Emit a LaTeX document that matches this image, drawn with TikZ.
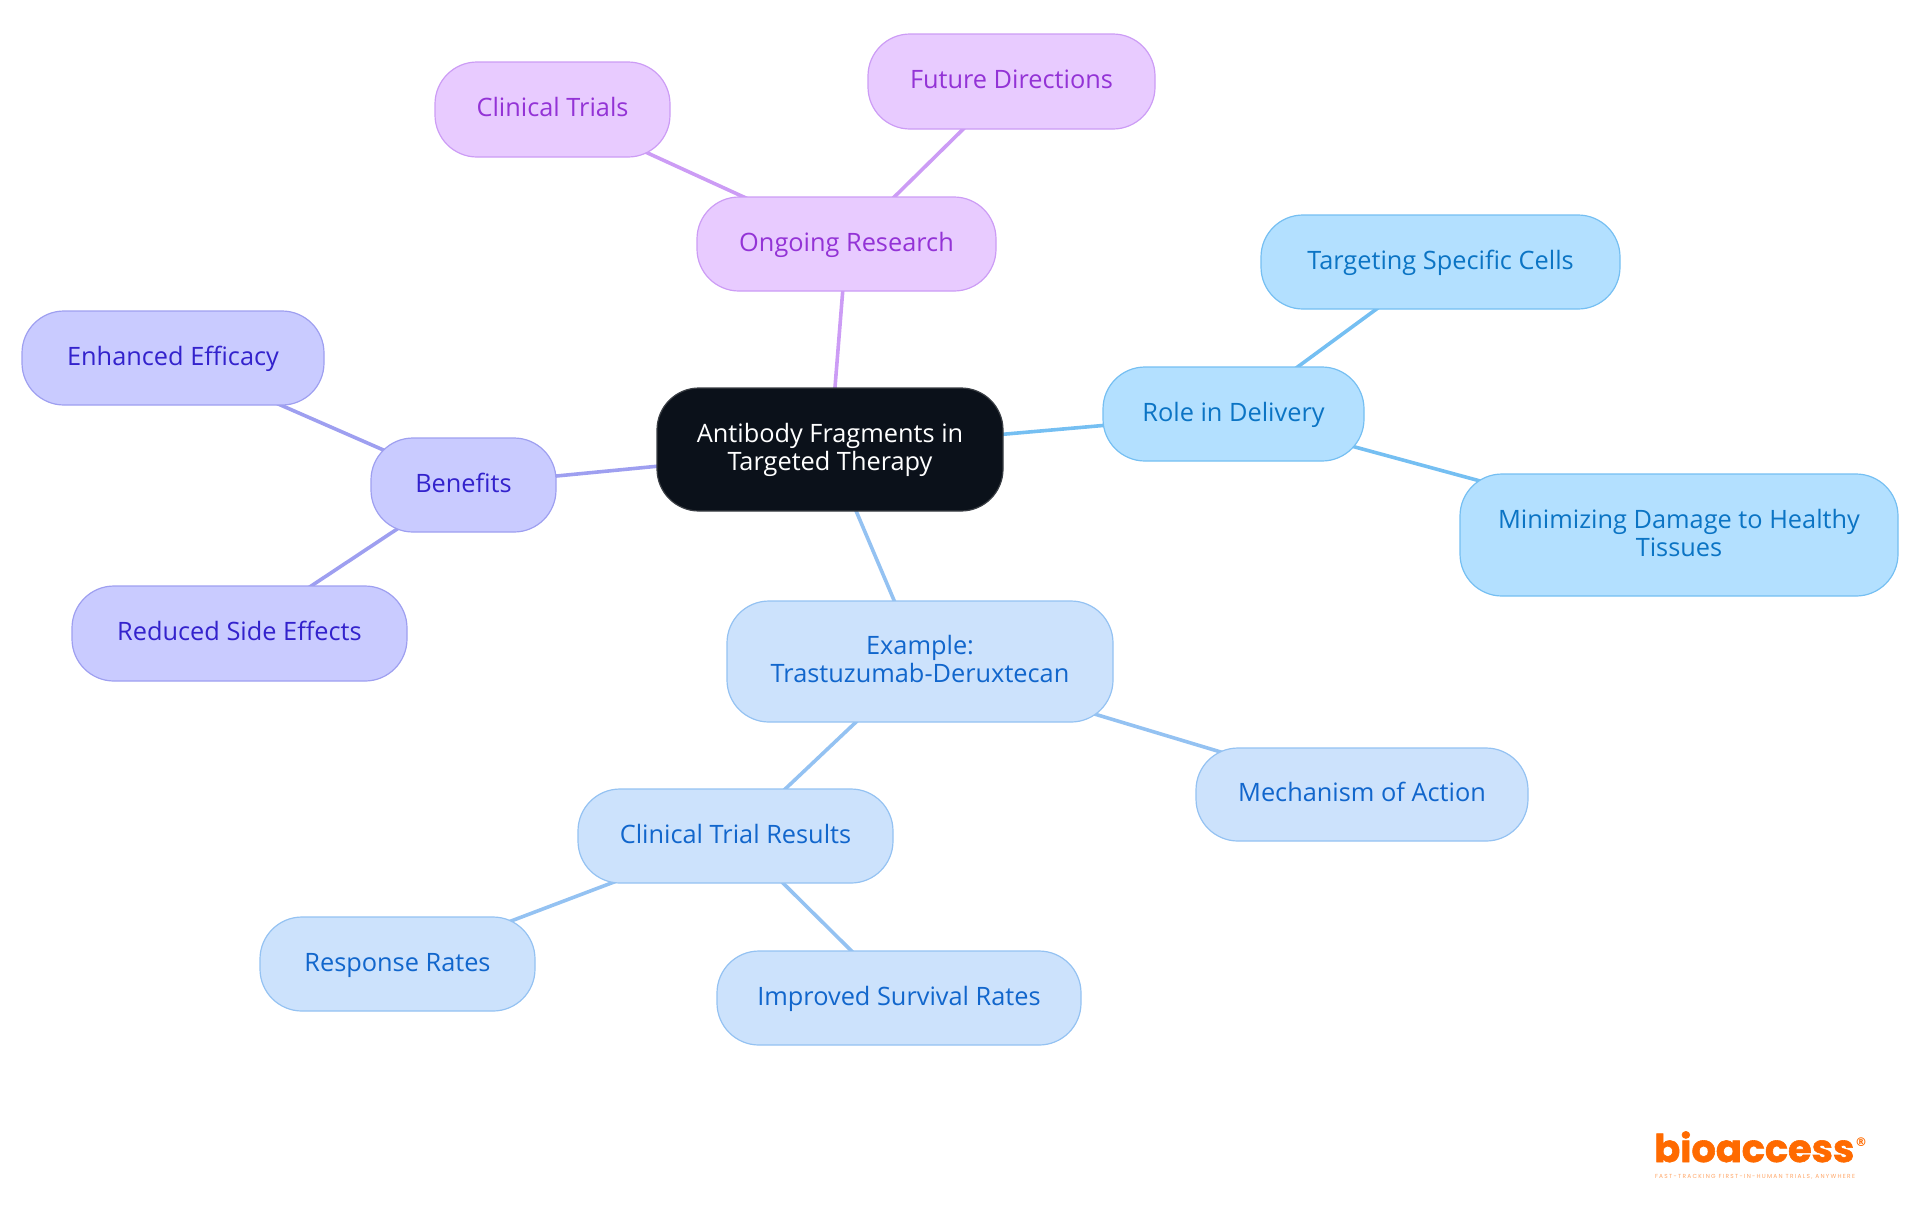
\documentclass[tikz,border=0pt]{standalone}
\usepackage{fontspec}
\usepackage{graphicx}
\setmainfont{Open Sans}
\newfontfamily\logofont[FakeBold=1.5]{Poppins}
\newfontfamily\regfont{DejaVu Sans}
\newfontfamily\tagfont[LetterSpace=22]{Poppins}
\usetikzlibrary{backgrounds}
\definecolor{rootfill}{HTML}{0B111A}
\definecolor{rootline}{HTML}{3A3E44}
\definecolor{purfill}{HTML}{E8CBFF}
\definecolor{purline}{HTML}{CC9CF5}
\definecolor{purtext}{HTML}{9333D6}
\definecolor{skyfill}{HTML}{B3E0FF}
\definecolor{skyline}{HTML}{75BFF2}
\definecolor{skytext}{HTML}{0B74C4}
\definecolor{blufill}{HTML}{CCE2FC}
\definecolor{bluline}{HTML}{94C2F2}
\definecolor{blutext}{HTML}{1166CC}
\definecolor{indfill}{HTML}{C9CBFF}
\definecolor{indline}{HTML}{9E9FF0}
\definecolor{indtext}{HTML}{3322CC}
\definecolor{logoor}{HTML}{FF6A00}
\newcommand{\mmstrut}{\rule{0pt}{15.6pt}}
\newcommand{\mmdepth}{\rule[-4.4pt]{0pt}{4.4pt}}
\tikzset{
  x=0.75pt,y=-0.75pt,
  mm/.style={rounded corners=31.5pt,line width=0.9pt,align=center,font=\fontsize{19}{21}\selectfont,inner sep=0pt},
  pur/.style={mm,fill=purfill,draw=purline,text=purtext},
  sky/.style={mm,fill=skyfill,draw=skyline,text=skytext},
  blu/.style={mm,fill=blufill,draw=bluline,text=blutext},
  ind/.style={mm,fill=indfill,draw=indline,text=indtext},
  rootbox/.style={mm,fill=rootfill,draw=rootline,text=white},
  pedge/.style={draw=purline,line width=2.7pt},
  sedge/.style={draw=skyline,line width=2.7pt},
  bedge/.style={draw=bluline,line width=2.7pt},
  iedge/.style={draw=indline,line width=2.7pt},
}
\newcommand{\mmnode}[7]{% style,name,x1,y1,x2,y2,text
  \node[#1,minimum width={(#5-#3)*0.75pt},minimum height={(#6-#4)*0.75pt}] (#2) at ({(#3+#5)/2},{(#4+#6)/2}) {\mmstrut #7\mmdepth};}
\begin{document}
\begin{tikzpicture}
\useasboundingbox (0,0) rectangle (1920,1215);
\mmnode{rootbox}{root}{657}{388}{1003}{511}{Antibody Fragments in\\Targeted Therapy}
\mmnode{pur}{research}{697}{197}{996}{291}{Ongoing Research}
\mmnode{pur}{trials}{435}{62}{670}{157}{Clinical Trials}
\mmnode{pur}{future}{868}{34}{1155}{129}{Future Directions}
\mmnode{sky}{role}{1103}{367}{1364}{461}{Role in Delivery}
\mmnode{sky}{cells}{1261}{215}{1620}{309}{Targeting Specific Cells}
\mmnode{sky}{damage}{1460}{474}{1898}{596}{Minimizing Damage to Healthy\\Tissues}
\mmnode{ind}{benefits}{371}{438}{556}{532}{Benefits}
\mmnode{ind}{efficacy}{22}{311}{324}{405}{Enhanced Efficacy}
\mmnode{ind}{side}{72}{586}{407}{681}{Reduced Side Effects}
\mmnode{blu}{example}{727}{601}{1113}{722}{Example:\\Trastuzumab-Deruxtecan}
\mmnode{blu}{mech}{1196}{748}{1528}{841}{Mechanism of Action}
\mmnode{blu}{results}{578}{789}{893}{883}{Clinical Trial Results}
\mmnode{blu}{response}{260}{917}{535}{1011}{Response Rates}
\mmnode{blu}{survival}{717}{951}{1081}{1045}{Improved Survival Rates}
\begin{scope}[on background layer]
\draw[pedge] (root.center) -- (research.center);
\draw[pedge] (research.center) -- (trials.center);
\draw[pedge] (research.center) -- (future.center);
\draw[sedge] (root.center) -- (role.center);
\draw[sedge] (role.center) -- (cells.center);
\draw[sedge] (role.center) -- (damage.center);
\draw[iedge] (root.center) -- (benefits.center);
\draw[iedge] (benefits.center) -- (efficacy.center);
\draw[iedge] (benefits.center) -- (side.center);
\draw[bedge] (root.center) -- (example.center);
\draw[bedge] (example.center) -- (mech.center);
\draw[bedge] (example.center) -- (results.center);
\draw[bedge] (results.center) -- (response.center);
\draw[bedge] (results.center) -- (survival.center);
\end{scope}
\node[text=logoor,anchor=base west,inner sep=0pt] (logo) at (1654,1162) {\resizebox{150pt}{!}{\logofont\bfseries bioaccess}};
\node[text=logoor,font=\regfont\bfseries\fontsize{9}{9}\selectfont,inner sep=0pt] (reg) at (1861,1142) {®};
\node[text=logoor!60,inner sep=0pt] (tag) at (1755,1177) {\resizebox{150pt}{!}{\tagfont FAST-TRACKING FIRST-IN-HUMAN TRIALS, ANYWHERE}};
\end{tikzpicture}
\end{document}
